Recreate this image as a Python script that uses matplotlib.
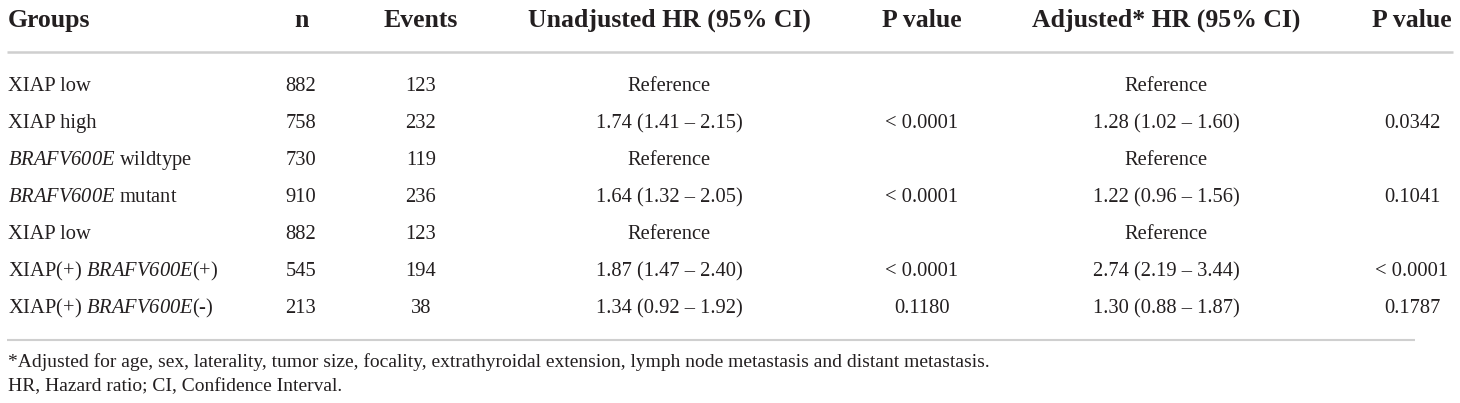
import matplotlib as mpl
mpl.use('Agg')
import matplotlib.pyplot as plt

plt.rcParams['font.family'] = ['Liberation Serif', 'DejaVu Serif']
plt.rcParams['mathtext.fontset'] = 'custom'
plt.rcParams['mathtext.rm'] = 'Liberation Serif'
# sf slot used for italic so that digits stay italic too
plt.rcParams['mathtext.sf'] = 'Liberation Serif:italic'

# table content
headers = ["Groups", "n", "Events", "Unadjusted HR (95% CI)", "P value",
           "Adjusted* HR (95% CI)", "P value"]
groups = [
    "XIAP low",
    "XIAP high",
    r"$\mathsf{BRAFV600E}$ wildtype",
    r"$\mathsf{BRAFV600E}$ mutant",
    "XIAP low",
    r"XIAP(+) $\mathsf{BRAFV600E}$(+)",
    r"XIAP(+) $\mathsf{BRAFV600E}$(-)",
]
n_vals = [882, 758, 730, 910, 882, 545, 213]
events = [123, 232, 119, 236, 123, 194, 38]
unadj_hr = ["Reference", "1.74 (1.41 – 2.15)", "Reference", "1.64 (1.32 – 2.05)",
            "Reference", "1.87 (1.47 – 2.40)", "1.34 (0.92 – 1.92)"]
unadj_p = ["", "< 0.0001", "", "< 0.0001", "", "< 0.0001", "0.1180"]
adj_hr = ["Reference", "1.28 (1.02 – 1.60)", "Reference", "1.22 (0.96 – 1.56)",
          "Reference", "2.74 (2.19 – 3.44)", "1.30 (0.88 – 1.87)"]
adj_p = ["", "0.0342", "", "0.1041", "", "< 0.0001", "0.1787"]
footnotes = [
    "*Adjusted for age, sex, laterality, tumor size, focality, extrathyroidal "
    "extension, lymph node metastasis and distant metastasis.",
    "HR, Hazard ratio; CI, Confidence Interval.",
]

W, H = 1460, 403
fig = plt.figure(figsize=(W / 100, H / 100), dpi=100)
ax = fig.add_axes([0, 0, 1, 1])
ax.set_xlim(0, W)
ax.set_ylim(H, 0)
ax.axis('off')

txt = '#231f20'
head_fs = 18.5
body_fs = 14.8
foot_fs = 14.0

# column x (left for first, centre for the rest)
col_x = [8, 301, 421, 669, 922, 1166, 1412]

for i, h in enumerate(headers):
    ha = 'left' if i == 0 else 'center'
    ax.text(col_x[i], 27, h, ha=ha, va='baseline', fontsize=head_fs,
            fontweight='bold', color=txt)

ax.plot([7, 1453], [51.5, 51.5], color='#cfcfcf', lw=1.8, solid_capstyle='butt')

cols = [groups, n_vals, events, unadj_hr, unadj_p, adj_hr, adj_p]
for r in range(len(groups)):
    yb = 91 + 37 * r
    for c, col in enumerate(cols):
        val = str(col[r])
        if not val:
            continue
        ha = 'left' if c == 0 else 'center'
        ax.text(col_x[c], yb, val, ha=ha, va='baseline', fontsize=body_fs,
                color=txt)

ax.plot([7, 1415], [339.5, 339.5], color='#cfcfcf', lw=1.5, solid_capstyle='butt')

ax.text(8, 367, footnotes[0], ha='left', va='baseline', fontsize=foot_fs, color=txt)
ax.text(8, 391, footnotes[1], ha='left', va='baseline', fontsize=foot_fs, color=txt)

fig.savefig('out.png', dpi=100, facecolor='white')
